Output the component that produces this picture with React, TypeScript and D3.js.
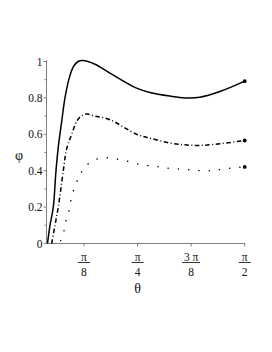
import { useEffect, useRef } from 'react';
import * as d3 from 'd3';

// theta in radians, phi values
const solidTheta = [0.1253, 0.1436, 0.1678, 0.1876, 0.2044, 0.2293, 0.2535, 0.285, 0.3143, 0.3488, 0.3832, 0.4733, 0.5832, 0.7737, 0.8763, 1.0228, 1.1327, 1.2426, 1.3892, Math.PI / 2];
const solidPhi = [0, 0.1, 0.2, 0.4, 0.53, 0.67, 0.8, 0.91, 0.97, 1.0, 1.005, 0.985, 0.936, 0.855, 0.83, 0.81, 0.8, 0.804, 0.835, 0.892];

const dashTheta = [0.1561, 0.1802, 0.2044, 0.2411, 0.266, 0.3026, 0.3392, 0.3707, 0.4125, 0.4733, 0.5832, 0.7737, 0.8763, 1.0228, 1.1327, 1.2426, 1.3892, Math.PI / 2];
const dashPhi = [0, 0.1, 0.2, 0.4, 0.52, 0.6, 0.67, 0.7, 0.711, 0.7, 0.68, 0.602, 0.579, 0.552, 0.542, 0.539, 0.548, 0.566];

const dotTheta = [0.222, 0.2462, 0.2608, 0.2828, 0.2975, 0.3195, 0.3466, 0.3803, 0.4316, 0.5026, 0.5781, 0.6931, 0.803, 0.8836, 0.9569, 1.0302, 1.1086, 1.1819, 1.2624, 1.3379, 1.4134, 1.494, Math.PI / 2];
const dotPhi = [0.016, 0.07, 0.125, 0.18, 0.24, 0.3, 0.35, 0.4, 0.443, 0.467, 0.47, 0.455, 0.434, 0.427, 0.42, 0.412, 0.409, 0.403, 0.4, 0.401, 0.409, 0.416, 0.421];

const yTicks = [0, 0.2, 0.4, 0.6, 0.8, 1];
const yTickLabels = ['0', '0.2', '0.4', '0.6', '0.8', '1'];
const yMinorTicks = [0.1, 0.3, 0.5, 0.7, 0.9];
const xTicks = [Math.PI / 8, Math.PI / 4, (3 * Math.PI) / 8, Math.PI / 2];
const xTickTop = ['π', 'π', '3 π', 'π'];
const xTickBottom = ['8', '4', '8', '2'];

export default function App() {
  const svgRef = useRef<SVGSVGElement>(null);

  useEffect(() => {
    if (!svgRef.current) return;
    const svg = d3.select(svgRef.current);
    svg.selectAll('*').remove();

    const font = 'Liberation Serif, DejaVu Serif, serif';
    const axisColor = '#808080';

    const x = d3.scaleLinear().domain([0.118, Math.PI / 2]).range([46.5, 244.7]);
    const y = d3.scaleLinear().domain([0, 1]).range([243.5, 61.5]);

    // axes
    svg.append('line')
      .attr('x1', x(0.118)).attr('x2', x(0.118))
      .attr('y1', y(0)).attr('y2', y(1.006))
      .attr('stroke', axisColor).attr('stroke-width', 1);
    svg.append('line')
      .attr('x1', x(0.118)).attr('x2', x(Math.PI / 2) + 0.5)
      .attr('y1', y(0)).attr('y2', y(0))
      .attr('stroke', axisColor).attr('stroke-width', 1);

    // y ticks
    yTicks.forEach((t, i) => {
      svg.append('line')
        .attr('x1', x(0.118) - 3).attr('x2', x(0.118))
        .attr('y1', y(t)).attr('y2', y(t))
        .attr('stroke', axisColor);
      svg.append('text')
        .attr('x', x(0.118) - 4)
        .attr('y', y(t))
        .attr('dy', '0.35em')
        .attr('text-anchor', 'end')
        .attr('font-family', font)
        .attr('font-size', 11.5)
        .attr('fill', '#111')
        .text(yTickLabels[i]);
    });
    yMinorTicks.forEach((t) => {
      svg.append('line')
        .attr('x1', x(0.118) - 2).attr('x2', x(0.118))
        .attr('y1', y(t)).attr('y2', y(t))
        .attr('stroke', axisColor);
    });

    // x ticks as fractions
    xTicks.forEach((t, i) => {
      const cx = x(t);
      svg.append('line')
        .attr('x1', cx).attr('x2', cx)
        .attr('y1', y(0)).attr('y2', y(0) + 3)
        .attr('stroke', axisColor);
      svg.append('text')
        .attr('x', cx).attr('y', 257)
        .attr('dy', '0.35em')
        .attr('text-anchor', 'middle')
        .attr('font-family', font)
        .attr('font-size', 11.5)
        .attr('fill', '#111')
        .text(xTickTop[i]);
      const w = xTickTop[i].length > 1 ? 18 : 12;
      svg.append('line')
        .attr('x1', cx - w / 2).attr('x2', cx + w / 2)
        .attr('y1', 262.5).attr('y2', 262.5)
        .attr('stroke', '#333').attr('stroke-width', 1);
      svg.append('text')
        .attr('x', cx).attr('y', 271.5)
        .attr('dy', '0.35em')
        .attr('text-anchor', 'middle')
        .attr('font-family', font)
        .attr('font-size', 11.5)
        .attr('fill', '#111')
        .text(xTickBottom[i]);
    });

    // axis titles
    svg.append('text')
      .attr('x', x(Math.PI / 4)).attr('y', 288)
      .attr('dy', '0.35em')
      .attr('text-anchor', 'middle')
      .attr('font-family', font)
      .attr('font-size', 14)
      .attr('fill', '#111')
      .text('θ');
    svg.append('text')
      .attr('x', 19).attr('y', 155)
      .attr('dy', '0.35em')
      .attr('text-anchor', 'middle')
      .attr('font-family', font)
      .attr('font-size', 14)
      .attr('fill', '#111')
      .text('φ');

    const series = [
      { th: solidTheta, ph: solidPhi, dash: null as string | null, width: 1.5, cap: 'butt' },
      { th: dashTheta, ph: dashPhi, dash: '4.5 2.5 1 2.5', width: 1.5, cap: 'butt' },
      { th: dotTheta, ph: dotPhi, dash: '0.1 10.2', width: 1.5, cap: 'round' },
    ];

    const line = d3.line<[number, number]>()
      .x((d) => x(d[0]))
      .y((d) => y(d[1]))
      .curve(d3.curveCatmullRom.alpha(0.5));

    series.forEach((s) => {
      const pts = s.th.map((t, i) => [t, s.ph[i]] as [number, number]);
      const p = svg.append('path')
        .datum(pts)
        .attr('fill', 'none')
        .attr('stroke', '#000')
        .attr('stroke-width', s.width)
        .attr('stroke-linecap', s.cap)
        .attr('d', line);
      if (s.dash) p.attr('stroke-dasharray', s.dash);
      const last = pts[pts.length - 1];
      svg.append('circle')
        .attr('cx', x(last[0]))
        .attr('cy', y(last[1]))
        .attr('r', 1.9)
        .attr('fill', '#000');
    });
  }, []);

  return (
    <svg
      ref={svgRef}
      width={272}
      height={352}
      style={{ position: 'absolute', left: 0, top: 0, background: '#fff' }}
    />
  );
}
